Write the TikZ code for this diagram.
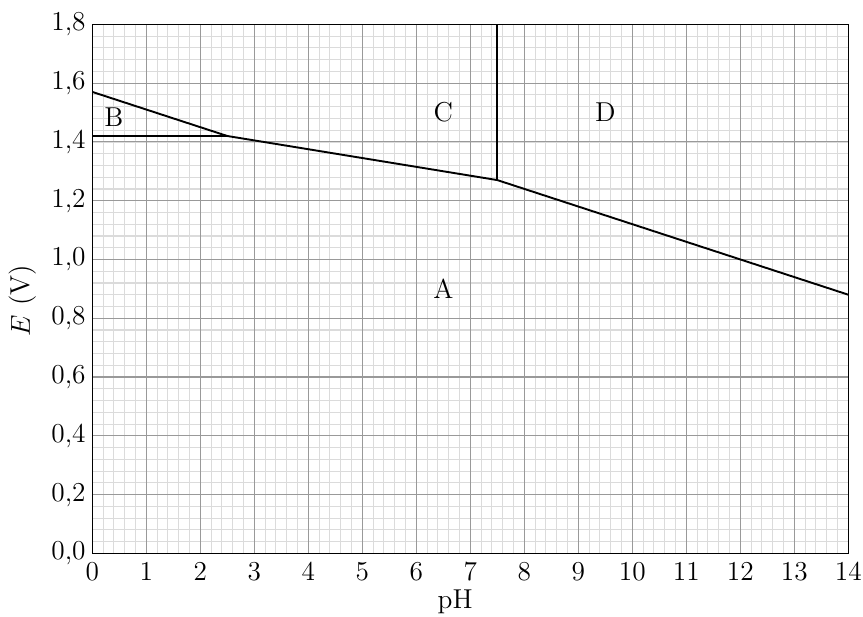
\documentclass[tikz,border=0pt]{standalone}
\begin{document}
\begin{tikzpicture}
  [x=1cm, y=5.443cm, font=\Large,
   minorline/.style={gray!28, line width=0.6pt},
   majorline/.style={gray!80, line width=0.6pt},
   boundary/.style={black, line width=1pt},
   region/.style={inner sep=0pt}]

  \useasboundingbox (-1.709,-0.2133) rectangle (14.272,1.8827);

  % fine grid
  \foreach \i in {0,...,70}
    \draw[minorline] (\i*0.2,0) -- (\i*0.2,1.8);
  \foreach \j in {0,...,45}
    \draw[minorline] (0,\j*0.04) -- (14,\j*0.04);

  % main grid
  \foreach \i in {1,...,13}
    \draw[majorline] (\i,0) -- (\i,1.8);
  \foreach \j in {1,...,8}
    \draw[majorline] (0,\j*0.2) -- (14,\j*0.2);

  \draw[thick] (0,0) rectangle (14,1.8);

  % tick labels
  \foreach \x in {0,...,14}
    \node[anchor=north, yshift=-1pt] (px\x) at (\x,0) {\x};
  \foreach \v/\a/\b in {0/0/0, 0.2/0/2, 0.4/0/4, 0.6/0/6, 0.8/0/8,
                        1.0/1/0, 1.2/1/2, 1.4/1/4, 1.6/1/6, 1.8/1/8}
    \node[anchor=east] at (0,\v) {\a,\b};

  \node (ph) at (6.72,-0.165) {pH};
  \node[rotate=90] (ev) at (-1.28,0.86) {$E$ (V)};

  % boundaries
  \coordinate (b0) at (0,1.57);
  \coordinate (h0) at (0,1.42);
  \coordinate (t1) at (2.5,1.42);
  \coordinate (t2) at (7.5,1.27);
  \coordinate (v18) at (7.5,1.8);
  \coordinate (b14) at (14,0.88);

  \draw[boundary] (b0) -- (t1) -- (t2) -- (b14);
  \draw[boundary] (h0) -- (t1);
  \draw[boundary] (t2) -- (v18);

  % domains
  \node[region] (ra) at (6.5,0.9) {A};
  \node[region] (rb) at (0.4,1.485) {B};
  \node[region] (rc) at (6.5,1.5) {C};
  \node[region] (rd) at (9.5,1.5) {D};
\end{tikzpicture}
\end{document}
